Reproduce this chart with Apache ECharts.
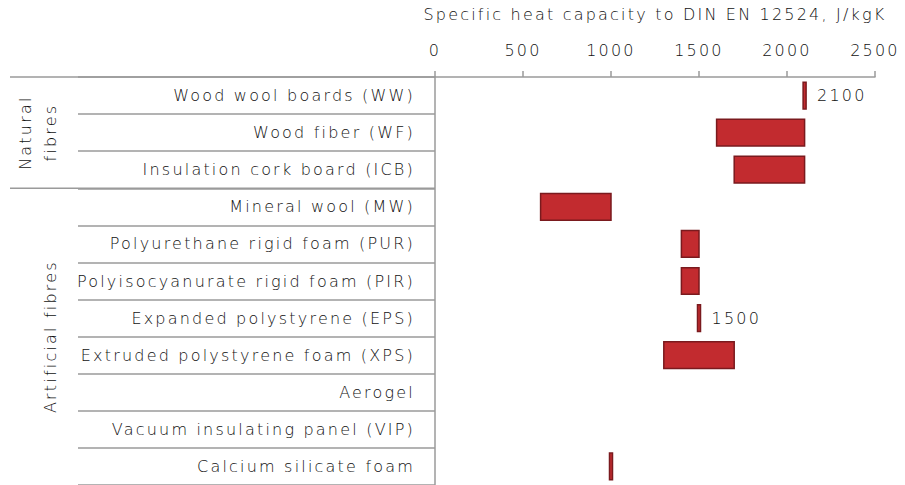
<!DOCTYPE html>
<html>
<head>
<meta charset="utf-8">
<script src="https://cdn.jsdelivr.net/npm/echarts@6/dist/echarts.min.js"></script>
<style>
  html, body { margin: 0; padding: 0; background: #fff; }
  #chart { width: 905px; height: 485px; }
  /* the source chart uses a wide, airy typeface */
  #chart text { letter-spacing: 2.2px; }
</style>
</head>
<body>
<div id="chart"></div>
<script>
const categories = [
  "Wood wool boards (WW)",
  "Wood fiber (WF)",
  "Insulation cork board (ICB)",
  "Mineral wool (MW)",
  "Polyurethane rigid foam (PUR)",
  "Polyisocyanurate rigid foam (PIR)",
  "Expanded polystyrene (EPS)",
  "Extruded polystyrene foam (XPS)",
  "Aerogel",
  "Vacuum insulating panel (VIP)",
  "Calcium silicate foam"
];
// specific heat capacity range, J/kgK (null = no data)
const lowValues  = [2100, 1600, 1700, 600, 1400, 1400, 1500, 1300, null, null, 1000];
const highValues = [2100, 2100, 2100, 1000, 1500, 1500, 1500, 1700, null, null, 1000];
const valueLabels = ["2100", null, null, null, null, null, "1500", null, null, null, null];

const groupNames = ["Natural\nfibres", "Artificial fibres"];
const groupSizes = [3, 8];

const FONT = "DejaVu Sans";
const WEIGHT = 300;
const TEXT = "#111";
const AXIS = "#9a9a9a";

let chart = echarts.init(document.getElementById("chart"), null, { renderer: "svg" });

let seriesData = [];
categories.forEach(function (c, i) {
  if (lowValues[i] != null) {
    seriesData.push([i, lowValues[i], highValues[i], valueLabels[i] || ""]);
  }
});

function renderRange(params, api) {
  const idx = api.value(0);
  const start = api.coord([api.value(1), idx]);
  const end = api.coord([api.value(2), idx]);
  const h = api.size([0, 1])[1] * 0.72;
  let x = start[0];
  let w = end[0] - start[0];
  if (w < 3) {
    x = start[0] - 1.5;
    w = 3;
  }
  const children = [{
    type: "rect",
    shape: { x: x, y: start[1] - h / 2, width: w, height: h },
    style: { fill: "#c22b2f", stroke: "#7a1a1e", lineWidth: 1.5 }
  }];
  const lbl = seriesData[params.dataIndex][3];
  if (lbl) {
    children.push({
      type: "text",
      x: x + w + 11,
      y: start[1],
      style: {
        text: lbl,
        fill: TEXT,
        font: WEIGHT + " 16px " + FONT,
        verticalAlign: "middle",
        align: "left"
      }
    });
  }
  return { type: "group", children: children };
}

let option = {
  animation: false,
  grid: { left: 435, right: 30, top: 77, height: 410 },
  xAxis: {
    type: "value",
    position: "top",
    min: 0,
    max: 2500,
    interval: 500,
    name: "Specific heat capacity to DIN EN 12524, J/kgK",
    nameLocation: "middle",
    nameGap: 55,
    nameTextStyle: { color: TEXT, fontSize: 16, fontFamily: FONT, fontWeight: WEIGHT },
    axisLine: { show: true, lineStyle: { color: AXIS, width: 1.5 } },
    axisTick: { show: true, length: 6, lineStyle: { color: AXIS, width: 1.5 } },
    axisLabel: {
      color: TEXT, fontSize: 16, fontFamily: FONT, fontWeight: WEIGHT, margin: 19,
      formatter: function (v) { return String(v); }
    },
    splitLine: { show: false }
  },
  yAxis: {
    type: "category",
    inverse: true,
    data: categories,
    axisLine: { show: true, lineStyle: { color: AXIS, width: 1.5 } },
    axisTick: { show: true, length: 357, lineStyle: { color: AXIS, width: 1.5 } },
    axisLabel: { color: TEXT, fontSize: 16, fontFamily: FONT, fontWeight: WEIGHT, margin: 20 },
    splitLine: { show: false }
  },
  series: [
    {
      type: "custom",
      renderItem: renderRange,
      encode: { x: [1, 2], y: 0 },
      data: seriesData
    }
  ]
};
chart.setOption(option);

// group separators and rotated group labels, placed from the category scale
const c0 = chart.convertToPixel({ yAxisIndex: 0 }, 0);
const c1 = chart.convertToPixel({ yAxisIndex: 0 }, 1);
const band = c1 - c0;
const x0 = chart.convertToPixel({ xAxisIndex: 0 }, 0);
let graphics = [];
let startIdx = 0;
groupNames.forEach(function (g, k) {
  const top = c0 + (startIdx - 0.5) * band;
  const bottom = top + groupSizes[k] * band;
  graphics.push({
    type: "line",
    shape: { x1: 10, y1: top, x2: x0, y2: top },
    style: { stroke: AXIS, lineWidth: 1.5 }
  });
  graphics.push({
    type: "text",
    x: 63,
    y: (top + bottom) / 2,
    rotation: Math.PI / 2,
    style: {
      text: g,
      fill: TEXT,
      font: WEIGHT + " 16px " + FONT,
      align: "center",
      verticalAlign: "bottom",
      lineHeight: 25
    }
  });
  startIdx += groupSizes[k];
});
chart.setOption({ graphic: graphics });

window.addEventListener("resize", function () {
  chart.resize();
});
</script>
</body>
</html>
